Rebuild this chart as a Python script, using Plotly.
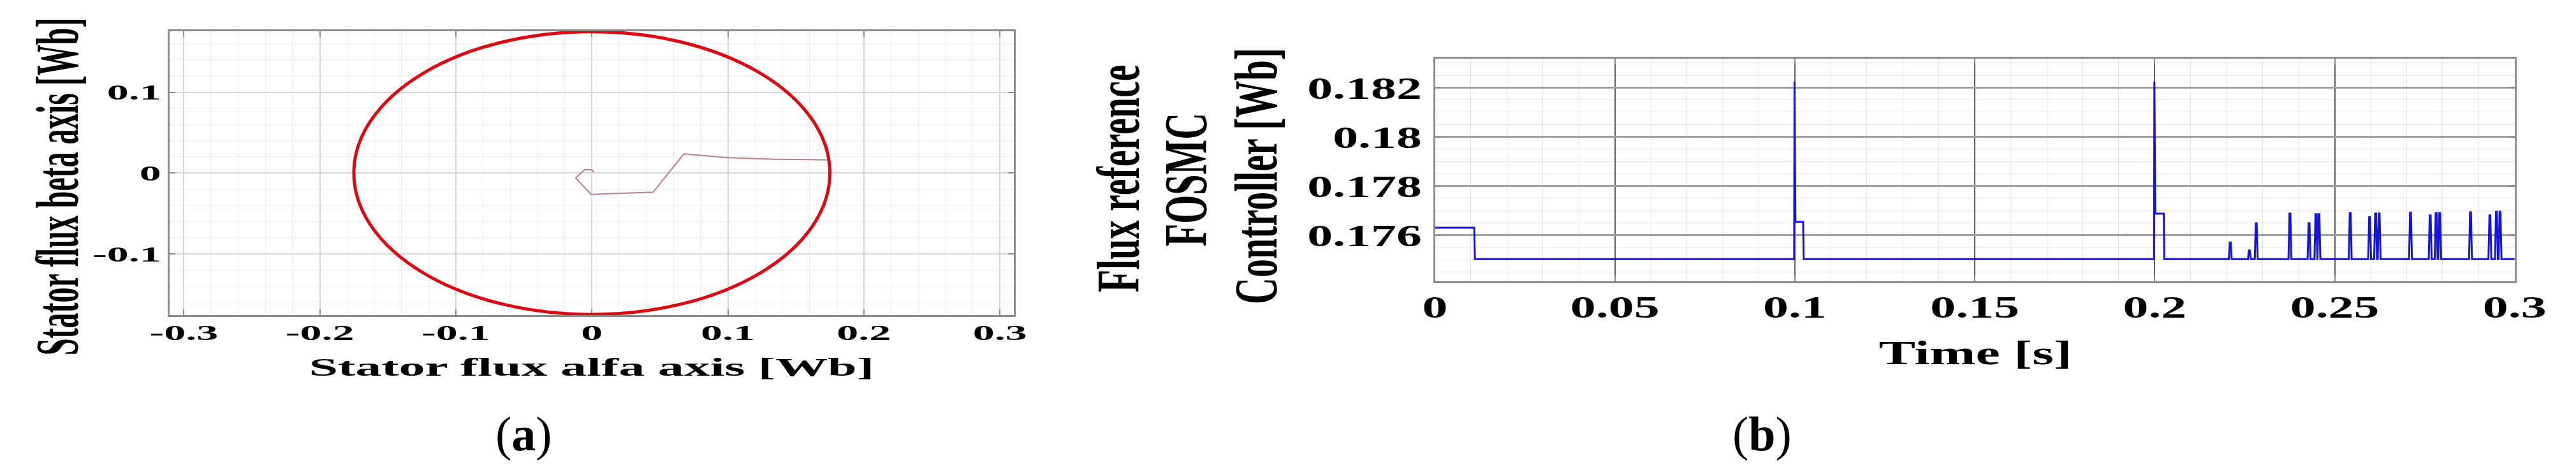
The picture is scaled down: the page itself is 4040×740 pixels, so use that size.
import json
import plotly.graph_objects as go

# ---------------- Panel (a): stator flux trajectory ----------------
alpha_tickvals = [-0.3, -0.2, -0.1, 0, 0.1, 0.2, 0.3]
alpha_ticktext = ["-0.3", "-0.2", "-0.1", "0", "0.1", "0.2", "0.3"]
beta_tickvals = [-0.1, 0, 0.1]
beta_ticktext = ["-0.1", "0", "0.1"]
flux_circle_radius = 0.175          # steady-state stator flux magnitude [Wb]
startup_alpha = [0.0014, 0.0001, -0.0052, -0.0119, -0.0006, 0.0450, 0.0677, 0.0999, 0.1354, 0.1741]
startup_beta = [0.0010, 0.0040, 0.0044, -0.0061, -0.0264, -0.0237, 0.0237, 0.0189, 0.0171, 0.0163]

# ---------------- Panel (b): flux reference of FOSMC controller ----------------
time_tickvals = [0, 0.05, 0.1, 0.15, 0.2, 0.25, 0.3]
time_ticktext = ["0", "0.05", "0.1", "0.15", "0.2", "0.25", "0.3"]
flux_tickvals = [0.176, 0.178, 0.18, 0.182]
flux_ticktext = ["0.176", "0.178", "0.18", "0.182"]
flux_base = 0.17502
flux_initial = 0.1763
initial_end_time = 0.0109
step_time = [0.0999, 0.1999]
step_peak = [0.18225, 0.18225]
step_plateau = [0.17654, 0.17687]
step_plateau_end = [0.1023, 0.2025]
pulse_time = [0.22098, 0.22629, 0.22819, 0.23756, 0.24287, 0.24478, 0.24561,
              0.25431, 0.25970, 0.26136, 0.26235, 0.27106, 0.27653, 0.27819,
              0.27919, 0.28773, 0.29312, 0.29494, 0.29594]
pulse_peak = [0.17570, 0.17537, 0.17648, 0.17688, 0.17648, 0.17685, 0.17685,
              0.17690, 0.17673, 0.17688, 0.17688, 0.17692, 0.17680, 0.17690,
              0.17690, 0.17693, 0.17680, 0.17695, 0.17695]
time_end = 0.3

# build the step signal from the events above
events = []
for ts, pk, pl, pe in zip(step_time, step_peak, step_plateau, step_plateau_end):
    events.append([(ts - 0.0001, flux_base), (ts, pk), (ts + 0.00025, pl), (pe, pl), (pe + 0.00015, flux_base)])
for tp, pk in zip(pulse_time, pulse_peak):
    events.append([(tp - 0.0004, flux_base), (tp - 0.00012, pk), (tp + 0.00012, pk), (tp + 0.0004, flux_base)])
events.sort(key=lambda e: e[0][0])
sig = [(0.0, flux_initial), (initial_end_time, flux_initial), (initial_end_time + 0.0002, flux_base)]
for e in events:
    sig.extend(e)
sig.append((time_end, flux_base))
sig_t = [p[0] for p in sig]
sig_v = [p[1] for p in sig]

W, H = 4040, 740
SERIF = "Liberation Serif, Times New Roman, serif"

def px(x):
    return x / W

def py(y):
    return 1 - y / H

fig = go.Figure()
fig.add_trace(go.Scatter(x=startup_alpha, y=startup_beta, mode="lines",
                         line=dict(color="rgb(185,130,130)", width=2),
                         xaxis="x", yaxis="y", showlegend=False, hoverinfo="skip"))
fig.add_shape(type="circle", xref="x", yref="y",
              x0=-flux_circle_radius, x1=flux_circle_radius,
              y0=-flux_circle_radius, y1=flux_circle_radius,
              line=dict(color="rgb(222,8,18)", width=5))
fig.add_trace(go.Scatter(x=sig_t, y=sig_v, mode="lines",
                         line=dict(color="rgb(20,20,220)", width=3),
                         xaxis="x2", yaxis="y2", showlegend=False, hoverinfo="skip"))

frame_a = dict(showline=True, linecolor="rgb(140,140,140)", linewidth=2.5, mirror="ticks",
               ticks="inside", ticklen=9, tickwidth=2, tickcolor="rgb(140,140,140)",
               zeroline=False, showgrid=True, gridcolor="rgb(214,214,214)", gridwidth=1.5,
               tickfont=dict(family=SERIF, size=34, color="black", weight="bold"))
frame_b = dict(showline=True, linecolor="rgb(140,140,140)", linewidth=2.5, mirror="ticks",
               ticks="inside", ticklen=9, tickwidth=2, tickcolor="rgb(140,140,140)",
               zeroline=False, showgrid=True,
               tickfont=dict(family=SERIF, size=49, color="black", weight="bold"))

fig.update_layout(
    width=W, height=H, margin=dict(l=0, r=0, t=0, b=0),
    paper_bgcolor="white", plot_bgcolor="white", showlegend=False,
    xaxis=dict(domain=[px(249), px(1587)], range=[-0.3103, 0.3103], anchor="y",
               tickmode="array", tickvals=alpha_tickvals, ticktext=alpha_ticktext,
               ticklabelstandoff=-4,
               minor=dict(dtick=0.02, tick0=0, showgrid=True, gridcolor="rgb(236,236,236)", gridwidth=1),
               **frame_a),
    yaxis=dict(domain=[py(486), py(41)], range=[-0.1758, 0.1755], anchor="x",
               tickmode="array", tickvals=beta_tickvals, ticktext=beta_ticktext,
               ticklabelstandoff=4,
               minor=dict(dtick=0.02, tick0=0, showgrid=True, gridcolor="rgb(236,236,236)", gridwidth=1),
               **frame_a),
    xaxis2=dict(domain=[px(2254.5), px(3966)], range=[0, 0.3], anchor="y2",
                tickmode="array", tickvals=time_tickvals, ticktext=time_ticktext,
                gridcolor="rgb(95,95,95)", gridwidth=1.5, ticklabelstandoff=-5,
                minor=dict(dtick=0.01, tick0=0, showgrid=True, gridcolor="rgb(228,228,228)", gridwidth=1),
                **frame_b),
    yaxis2=dict(domain=[py(433), py(84)], range=[0.17412, 0.18318], anchor="x2",
                tickmode="array", tickvals=flux_tickvals, ticktext=flux_ticktext,
                gridcolor="rgb(160,160,160)", gridwidth=2.5, ticklabelstandoff=8,
                minor=dict(dtick=0.0005, tick0=0.174, showgrid=True, gridcolor="rgb(230,230,230)", gridwidth=1),
                **frame_b),
)

S_A, S_B = 2.0, 1.63
ann_specs = [
    # text, x px, y px, size, angle, bold, stretch
    ("Stator flux alfa axis [Wb]", 917, 567, 41, 0, True, S_A),
    ("Stator flux beta axis [Wb]", 69, 284, 48, -90, True, S_A),
    ("Time [s]", 3111, 545, 53, 0, True, S_B),
    ("Flux reference", 1752, 272, 58, -90, True, S_B),
    ("FOSMC", 1859, 274, 58, -90, True, S_B),
    ("Controller [Wb]", 1971, 268, 58, -90, True, S_B),
    ("(<b>a</b>)", 810, 672, 76, 0, False, 1.0),
    ("(<b>b</b>)", 2773, 672, 76, 0, False, 1.0),
]
stretch = {"ticks": [
    {"sel": "g.xtick text", "sx": S_A, "sy": 1, "mode": "center"},
    {"sel": "g.ytick text", "sx": S_A, "sy": 1, "mode": "end"},
    {"sel": "g.x2tick text", "sx": S_B, "sy": 1, "mode": "center"},
    {"sel": "g.y2tick text", "sx": S_B, "sy": 1, "mode": "end"},
], "ann": []}
for i, (txt, x, y, size, ang, bold, s) in enumerate(ann_specs):
    fig.add_annotation(text=txt, xref="paper", yref="paper", x=px(x), y=py(y),
                       xanchor="center", yanchor="middle", showarrow=False, textangle=ang,
                       font=dict(family=SERIF, size=size, color="black",
                                 weight="bold" if bold else "normal"))
    if s != 1.0:
        if ang == 0:
            stretch["ann"].append({"i": i, "sx": s, "sy": 1})
        else:
            stretch["ann"].append({"i": i, "sx": 1, "sy": s})

# Horizontal widening of the text, as in the (horizontally stretched) original figure.
# The screen anchor (centre, or right edge for y tick labels) is kept where Plotly put it.
js = """
var gd = document.getElementById('{plot_id}');
var SPEC = %s;
function st(el, sx, sy, mode){
  var cur = el.getAttribute('transform') || '';
  if (el.getAttribute('data-tf') === cur && cur !== '') return;
  var r0 = el.getBoundingClientRect();
  if (r0.width === 0) return;
  var bb = el.getBBox();
  var cx = bb.x + bb.width / 2, cy = bb.y + bb.height / 2;
  var tf = cur + ' translate(' + cx + ',' + cy + ') scale(' + sx + ',' + sy + ') translate(' + (-cx) + ',' + (-cy) + ')';
  el.setAttribute('transform', tf);
  var r1 = el.getBoundingClientRect();
  var ax0 = (mode === 'end') ? r0.right : (r0.left + r0.right) / 2;
  var ax1 = (mode === 'end') ? r1.right : (r1.left + r1.right) / 2;
  var dx = ax0 - ax1, dy = (r0.top + r0.bottom) / 2 - (r1.top + r1.bottom) / 2;
  var m = el.parentNode.getScreenCTM().inverse();
  var ddx = m.a * dx + m.c * dy, ddy = m.b * dx + m.d * dy;
  tf = 'translate(' + ddx + ',' + ddy + ') ' + tf;
  el.setAttribute('transform', tf);
  el.setAttribute('data-tf', tf);
}
function run(){
  SPEC.ticks.forEach(function(s){
    gd.querySelectorAll(s.sel).forEach(function(el){ st(el, s.sx, s.sy, s.mode); });
  });
  SPEC.ann.forEach(function(a){
    var el = gd.querySelector('g.annotation[data-index="' + a.i + '"] text.annotation-text');
    if (el) st(el, a.sx, a.sy, 'center');
  });
}
run();
gd.on('plotly_afterplot', run);
""" % json.dumps(stretch)

fig.write_html("out.html", post_script=js, config={"responsive": False, "displayModeBar": False})
